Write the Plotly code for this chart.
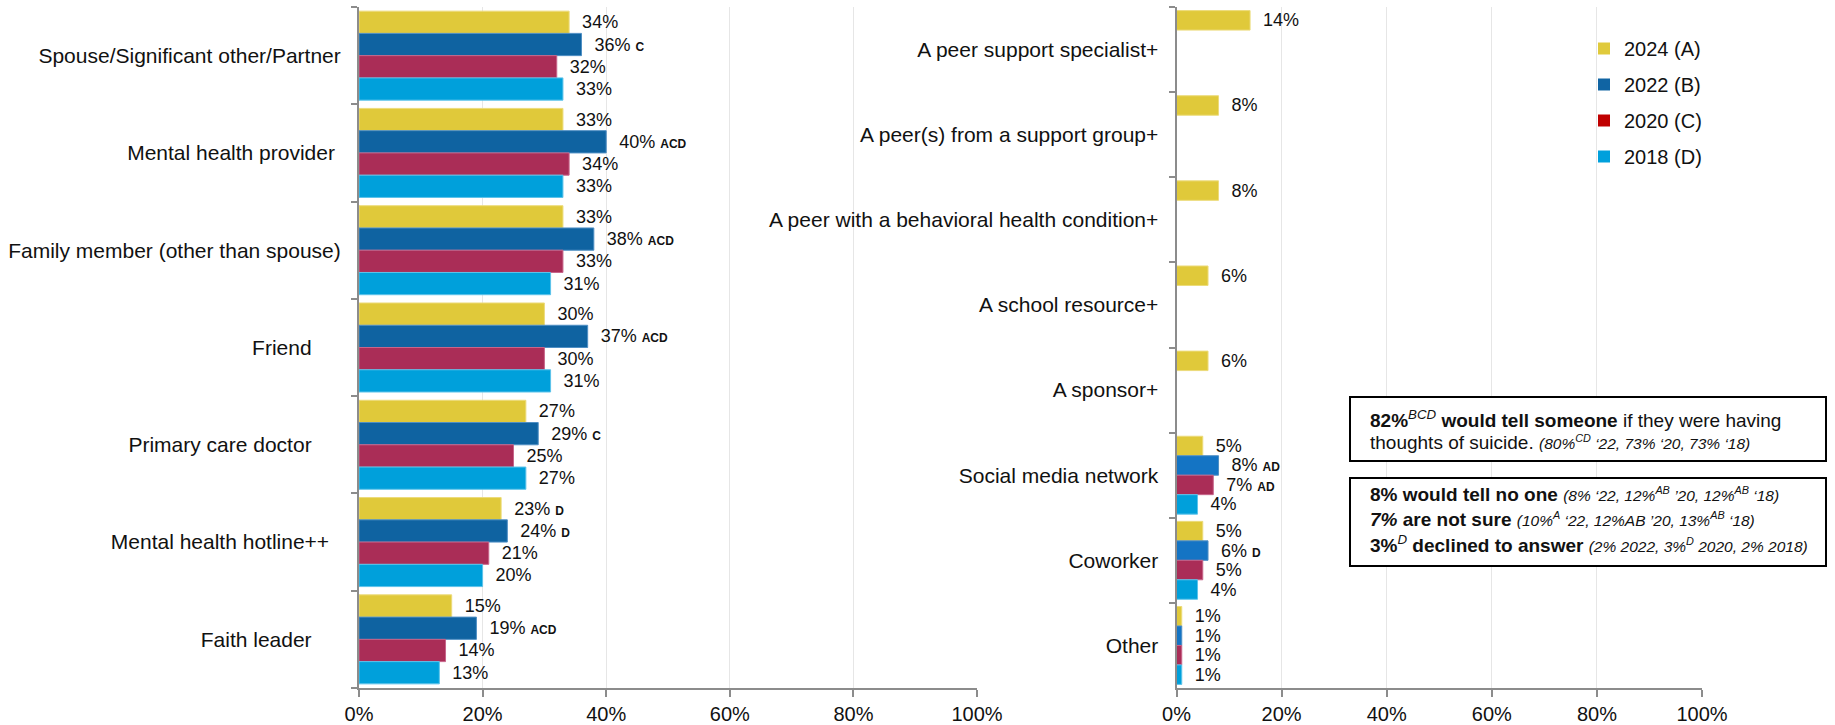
import plotly.graph_objects as go

# ---------------------------------------------------------------- data
support_sources = [
    "Spouse/Significant other/Partner",
    "Mental health provider",
    "Family member (other than spouse)",
    "Friend",
    "Primary care doctor",
    "Mental health hotline++",
    "Faith leader",
]
# axis labels as typeset on the slide (some carry trailing padding)
NB = "\u00a0"
support_ticktext = [
    "Spouse/Significant other/Partner",
    "Mental health provider" + NB,
    "Family member (other than spouse)",
    "Friend" + NB * 5,
    "Primary care doctor" + NB * 5,
    "Mental health hotline++" + NB * 2,
    "Faith leader" + NB * 5,
]
other_sources = [
    "A peer support specialist+",
    "A peer(s) from a support group+",
    "A peer with a behavioral health condition+",
    "A school resource+",
    "A sponsor+",
    "Social media network",
    "Coworker",
    "Other",
]
years = ["2024 (A)", "2022 (B)", "2020 (C)", "2018 (D)"]

support_2024 = [34, 33, 33, 30, 27, 23, 15]
support_2022 = [36, 40, 38, 37, 29, 24, 19]
support_2020 = [32, 34, 33, 30, 25, 21, 14]
support_2018 = [33, 33, 31, 31, 27, 20, 13]

support_sig_2024 = ["", "", "", "", "", "D", ""]
support_sig_2022 = ["C", "ACD", "ACD", "ACD", "C", "D", "ACD"]
support_sig_2020 = [""] * 7
support_sig_2018 = [""] * 7

other_2024 = [14, 8, 8, 6, 6, 5, 5, 1]
other_2022 = [None, None, None, None, None, 8, 6, 1]
other_2020 = [None, None, None, None, None, 7, 5, 1]
other_2018 = [None, None, None, None, None, 4, 4, 1]

other_sig_2024 = [""] * 8
other_sig_2022 = ["", "", "", "", "", "AD", "D", ""]
other_sig_2020 = ["", "", "", "", "", "AD", "", ""]
other_sig_2018 = [""] * 8

x_ticks = [0, 20, 40, 60, 80, 100]
x_ticktext = ["0%", "20%", "40%", "60%", "80%", "100%"]

# ---------------------------------------------------------------- styling
W, H = 1835, 725
M_TOP, M_BOT = 7, 37
FONT = "Liberation Sans, Arial, Helvetica, sans-serif"
INK = "#111111"
AXIS_GREY = "#8c8c8c"
GRID = "#e6e6e6"

left_colors = ["#E0C93A", "#0F63A1", "#AA2D57", "#00A0DB"]
right_colors = ["#E0C93A", "#1474C4", "#AA2D57", "#00A0DB"]
edge_colors = ["#ECDB7A", "#4F8FC4", "#C7658A", "#5DC3EA"]
legend_colors = ["#E0CA3C", "#1064A3", "#C00000", "#00A0DC"]


def px_x(x):
    return x / W


def px_y(y):
    return (H - M_BOT - y) / (H - M_TOP - M_BOT)


def bar_labels(values, sig):
    out = []
    for v, s in zip(values, sig):
        if v is None:
            out.append("")
            continue
        t = NB * 2 + f"{v}%"
        if s:
            t += f" <b><span style='font-size:12px'>{s}</span></b>"
        out.append(t)
    return out


fig = go.Figure()

left_series = [
    (support_2024, support_sig_2024),
    (support_2022, support_sig_2022),
    (support_2020, support_sig_2020),
    (support_2018, support_sig_2018),
]
right_series = [
    (other_2024, other_sig_2024),
    (other_2022, other_sig_2022),
    (other_2020, other_sig_2020),
    (other_2018, other_sig_2018),
]

for i, (vals, sig) in enumerate(left_series):
    fig.add_trace(go.Bar(
        x=vals, y=support_sources, orientation="h",
        name=years[i], showlegend=False,
        marker=dict(color=left_colors[i], line=dict(color=edge_colors[i], width=1)),
        text=bar_labels(vals, sig), textposition="outside",
        constraintext="none", cliponaxis=False,
        textfont=dict(family=FONT, size=18, color=INK),
        xaxis="x", yaxis="y", hoverinfo="skip",
    ))

for i, (vals, sig) in enumerate(right_series):
    fig.add_trace(go.Bar(
        x=vals, y=other_sources, orientation="h",
        name=years[i], showlegend=False,
        marker=dict(color=right_colors[i], line=dict(color=edge_colors[i], width=1)),
        text=bar_labels(vals, sig), textposition="outside",
        constraintext="none", cliponaxis=False,
        textfont=dict(family=FONT, size=18, color=INK),
        xaxis="x2", yaxis="y2", hoverinfo="skip",
    ))

# legend entries
for i, name in enumerate(years):
    fig.add_trace(go.Scatter(
        x=[None], y=[None], mode="markers", name=name,
        legendgroup=f"g{i}",
        marker=dict(symbol="square", size=10, color=legend_colors[i]),
        xaxis="x2", yaxis="y2", hoverinfo="skip",
    ))

xaxis_common = dict(
    range=[0, 100], tickvals=x_ticks, ticktext=x_ticktext,
    showline=True, linecolor=AXIS_GREY, linewidth=2,
    ticks="outside", ticklen=7, tickwidth=2, tickcolor=AXIS_GREY,
    showgrid=True, gridcolor=GRID, gridwidth=1, zeroline=False,
    tickfont=dict(family=FONT, size=20, color=INK), fixedrange=True,
    automargin=False,
)
yaxis_common = dict(
    type="category", autorange="reversed",
    showline=True, linecolor=AXIS_GREY, linewidth=2,
    ticks="outside", ticklen=6, tickwidth=2, tickcolor=AXIS_GREY,
    tickson="boundaries", showgrid=False, zeroline=False,
    tickfont=dict(family=FONT, size=21, color=INK),
    ticklabelstandoff=12, fixedrange=True, automargin=False,
)

fig.update_layout(
    width=W, height=H,
    margin=dict(l=0, r=0, t=M_TOP, b=M_BOT, pad=0),
    paper_bgcolor="white", plot_bgcolor="white",
    barmode="group", bargap=0.085, bargroupgap=0,
    font=dict(family=FONT, color=INK),
    xaxis=dict(domain=[px_x(359), px_x(977)], anchor="y", **xaxis_common),
    yaxis=dict(domain=[0, 1], anchor="x",
               categoryorder="array", categoryarray=support_sources,
               tickmode="array", tickvals=support_sources, ticktext=support_ticktext,
               **yaxis_common),
    xaxis2=dict(domain=[px_x(1176.5), px_x(1702)], anchor="y2", **xaxis_common),
    yaxis2=dict(domain=[0, 1], anchor="x2",
                categoryorder="array", categoryarray=other_sources, **yaxis_common),
    legend=dict(
        x=px_x(1584), y=px_y(29), xanchor="left", yanchor="top",
        font=dict(family=FONT, size=20, color=INK),
        bgcolor="rgba(0,0,0,0)", tracegroupgap=7, itemsizing="constant",
    ),
)

# summary boxes
for (y0, y1) in [(397, 461), (478, 566)]:
    fig.add_shape(type="rect", xref="paper", yref="paper",
                  x0=px_x(1350), x1=px_x(1826), y0=px_y(y1), y1=px_y(y0),
                  line=dict(color="black", width=2), fillcolor="white", layer="above")

SMALL = "<span style='font-size:15.5px'>"
note_lines = [
    (419, "<b>82%</b><i><sup>BCD</sup></i> <b>would tell someone</b> if they were having"),
    (442, "thoughts of suicide. <i>" + SMALL + "(80%<sup>CD</sup> \u201822, 73% \u201820, 73% \u201818)</span></i>"),
    (494, "<b>8% would tell no one</b> <i>" + SMALL + "(8% \u201822, 12%<sup>AB</sup> \u201920, 12%<sup>AB</sup> \u201818)</span></i>"),
    (519, "<b><i>7%</i> are not sure</b> <i>" + SMALL + "(10%<sup>A</sup> \u201822, 12%AB \u201920, 13%<sup>AB</sup> \u201818)</span></i>"),
    (544, "<b>3%</b><i><sup>D</sup></i> <b>declined to answer</b> <i>" + SMALL + "(2% 2022, 3%<sup>D</sup> 2020, 2% 2018)</span></i>"),
]
for y, txt in note_lines:
    fig.add_annotation(
        xref="paper", yref="paper", x=px_x(1368), y=px_y(y),
        xanchor="left", yanchor="middle", showarrow=False, align="left",
        text=txt, font=dict(family=FONT, size=19, color=INK),
    )

fig.write_html("out.html")
